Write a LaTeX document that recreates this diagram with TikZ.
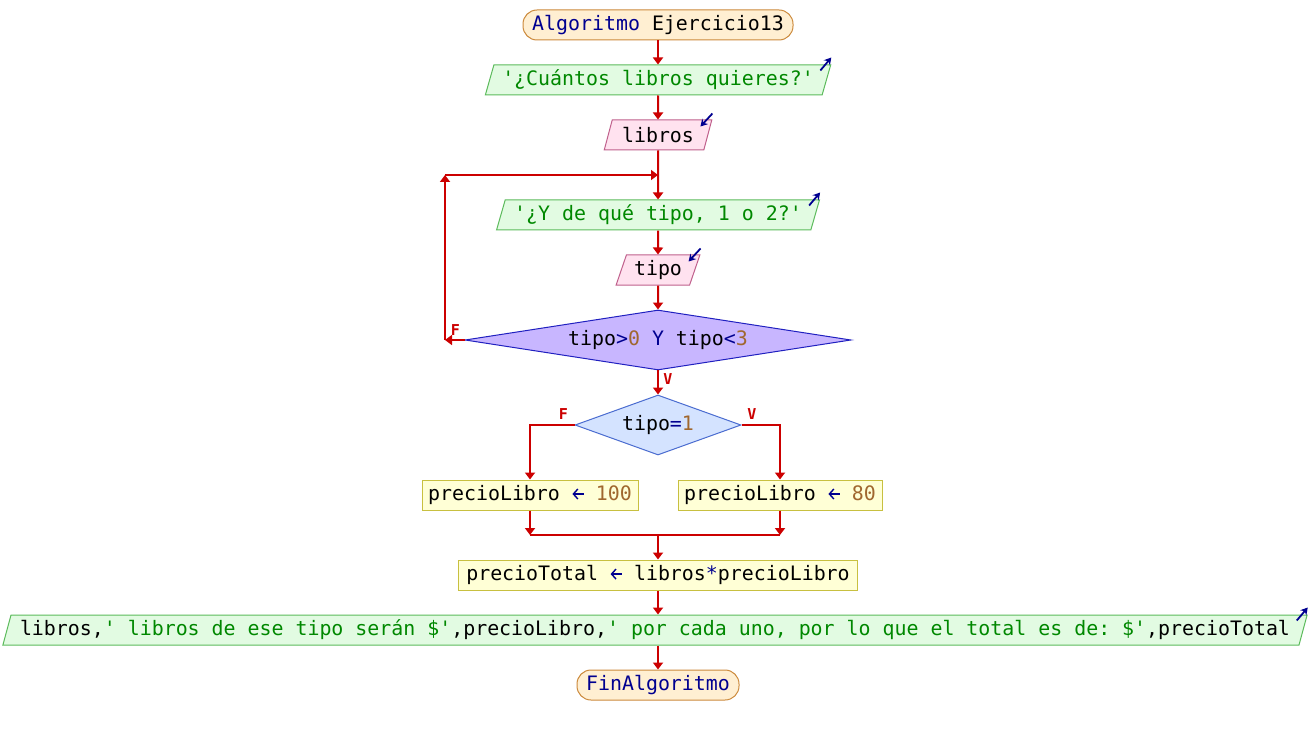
\documentclass[tikz,border=0pt]{standalone}
\usepackage{fontspec}
\setmonofont{DejaVu Sans Mono}
\usetikzlibrary{shapes.geometric,arrows.meta,calc}
\definecolor{arrowred}{HTML}{CC0000}
\definecolor{kwblue}{HTML}{000090}
\definecolor{strgreen}{HTML}{008800}
\definecolor{numbrown}{HTML}{A0672E}
\definecolor{termf}{HTML}{FFEFD2}
\definecolor{termb}{HTML}{CC8A3C}
\definecolor{outf}{HTML}{E2FBE2}
\definecolor{outb}{HTML}{5CBB5C}
\definecolor{inpf}{HTML}{FFE2EF}
\definecolor{inpb}{HTML}{C0608C}
\definecolor{procf}{HTML}{FFFFD6}
\definecolor{procb}{HTML}{C8C040}
\definecolor{condaf}{HTML}{C8B6FF}
\definecolor{condab}{HTML}{2020C0}
\definecolor{condbf}{HTML}{D4E3FF}
\definecolor{condbb}{HTML}{4A6CD0}
\newcommand{\Kw}[1]{\textcolor{kwblue}{#1}}
\newcommand{\Sq}[1]{\textcolor{strgreen}{#1}}
\newcommand{\Nm}[1]{\textcolor{numbrown}{#1}}
\newcommand{\Asg}{\tikz[baseline=0pt]{\useasboundingbox (0pt,0pt) rectangle (12pt,10pt);\draw[kwblue, line width=1.4pt, {Straight Barb[length=4.5pt,width=10pt,line width=1.4pt]}-] (0.5pt,6.5pt) -- (12pt,6.5pt);}}
\begin{document}
\begin{tikzpicture}[x=1pt,y=-1pt,
  base/.style={inner sep=0pt, font=\ttfamily\fontsize{19.9}{24}\selectfont, minimum height=30pt, line width=1pt},
  term/.style={base, rectangle, rounded corners=14pt, draw=termb, fill=termf},
  outp/.style={base, trapezium, trapezium left angle=68, trapezium right angle=112, trapezium stretches=true, draw=outb, fill=outf},
  inp/.style={base, trapezium, trapezium left angle=68, trapezium right angle=112, trapezium stretches=true, draw=inpb, fill=inpf},
  proc/.style={base, rectangle, draw=procb, fill=procf},
  conda/.style={base, diamond, aspect=6.4, minimum height=60pt, draw=condab, fill=condaf},
  condb/.style={base, diamond, aspect=2.8, minimum height=60pt, draw=condbb, fill=condbf},
  wire/.style={draw=arrowred, line width=2pt},
  conn/.style={wire, -{Triangle[length=7pt,width=10pt]}},
  lbl/.style={text=arrowred, font=\ttfamily\bfseries\fontsize{15}{17}\selectfont, inner sep=0pt},
  icon/.style={draw=kwblue, line width=1.8pt, -{Stealth[length=7pt,width=8pt]}}
]
\useasboundingbox[fill=white] (0,0) rectangle (1316,735);

\node[term, minimum width=270pt] (start) at (658,25) {\Kw{Algoritmo} Ejercicio13};
\node[outp, minimum width=347pt] (o1) at (658,80) {\Sq{'¿Cuántos libros quieres?'}};
\node[inp, minimum width=108pt] (i1) at (658,135) {libros};
\node[outp, minimum width=324pt] (o2) at (658,215) {\Sq{'¿Y de qué tipo, 1 o 2?'}};
\node[inp, minimum width=84pt] (i2) at (658,270) {tipo};
\node[conda, minimum width=386pt] (d1) at (658,340) {tipo\Kw{>}\Nm{0} \Kw{Y} tipo\Kw{<}\Nm{3}};
\node[condb, minimum width=166pt] (d2) at (658,425) {tipo\Kw{=}\Nm{1}};
\node[proc, minimum width=216pt] (p1) at (530,495) {precioLibro \Asg{} \Nm{100}};
\node[proc, minimum width=204pt] (p2) at (780,495) {precioLibro \Asg{} \Nm{80}};
\node[proc, minimum width=399pt] (p3) at (658,575) {precioTotal \Asg{} libros\Kw{*}precioLibro};
\node[outp, minimum width=1300pt, inner xsep=9pt] (o3) at (655,630) {libros,\Sq{' libros de ese tipo serán \$'},precioLibro,\Sq{' por cada uno, por lo que el total es de: \$'},precioTotal};
\node[term, minimum width=162pt] (end) at (658,685) {\Kw{FinAlgoritmo}};

\coordinate (la) at (445,340);
\coordinate (lb) at (445,175);
\coordinate (lc) at (658,175);
\coordinate (j1) at (530,535);
\coordinate (j2) at (780,535);
\coordinate (jm) at (658,535);

\draw[conn] (start) -- (o1);
\draw[conn] (o1) -- (i1);
\draw[conn] (i1.south) -- (o2.north);
\draw[conn] (o2) -- (i2);
\draw[conn] (i2) -- (d1);
\draw[conn] (d1.west) -- (la);
\draw[conn] (la) -- (lb);
\draw[conn] (lb) -- (lc);
\draw[conn] (d1) -- (d2);
\draw[conn] (d2.west) -| (p1.north);
\draw[conn] (d2.east) -| (p2.north);
\draw[conn] (p1.south) -- (j1);
\draw[conn] (p2.south) -- (j2);
\draw[wire] (j1) -- (j2);
\draw[conn] (jm) -- (p3.north);
\draw[conn] (p3.south) -- (p3.south |- o3.north);
\draw[conn] (o3.south -| end.north) -- (end.north);

\node[lbl] (lf1) at (455.5,330) {F};
\node[lbl] (lv1) at (668,379) {V};
\node[lbl] (lf2) at (563.5,414.5) {F};
\node[lbl] (lv2) at (752,414.5) {V};

\draw[icon] ($(o1.top right corner)+(-11,6)$) -- ($(o1.top right corner)+(0,-7)$);
\draw[icon] ($(o2.top right corner)+(-11,6)$) -- ($(o2.top right corner)+(0,-7)$);
\draw[icon] ($(o3.top right corner)+(-11,6)$) -- ($(o3.top right corner)+(0,-7)$);
\draw[icon] ($(i1.top right corner)+(0,-6)$) -- ($(i1.top right corner)+(-12,7)$);
\draw[icon] ($(i2.top right corner)+(0,-6)$) -- ($(i2.top right corner)+(-12,7)$);
\end{tikzpicture}
\end{document}
